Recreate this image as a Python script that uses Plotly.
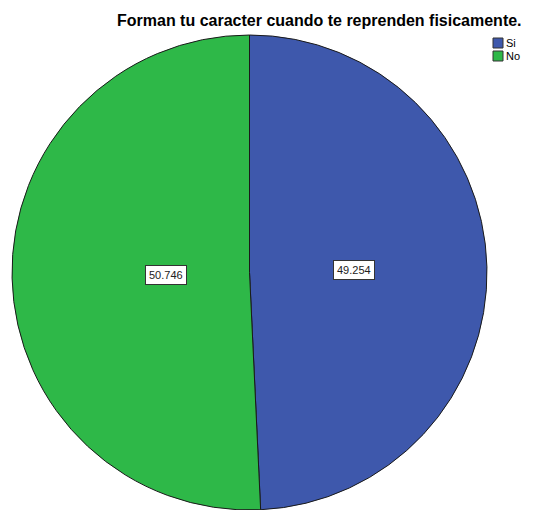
import math
import plotly.graph_objects as go

title_text = "Forman tu caracter cuando te reprenden fisicamente."
categories = ["Si", "No"]
values = [49.254, 50.746]
colors = ["#3E58AC", "#2EB848"]

# page has an 8px body margin; size the figure to fill the rest of the window
W, H = 531, 502
left, right, top = 1.5, 481.5, 27
r = min((right - left) / 2, (H - top) / 2)
cx = (left + right) / 2
cy = top + r

fig = go.Figure()
fig.add_trace(go.Pie(
    labels=categories, values=values, sort=False, direction="clockwise", rotation=0,
    marker=dict(colors=colors, line=dict(color="#1a1a1a", width=1)),
    textinfo="none", hoverinfo="label+value", showlegend=False,
    domain=dict(x=[left / W, right / W], y=[0, 1 - top / H]),
))

total = sum(values)
cum = 0.0
for v in values:
    mid = (cum + v / 2) / total * 2 * math.pi
    cum += v
    d = 0.44 * r
    px = cx + d * math.sin(mid)
    py = cy - d * math.cos(mid)
    fig.add_annotation(
        x=px / W, y=1 - py / H, xref="paper", yref="paper",
        text=f"{v:.3f}", showarrow=False,
        font=dict(family="Arial, Liberation Sans", size=11, color="#222"),
        bgcolor="white", bordercolor="#333", borderwidth=1, borderpad=3,
    )

# legend (manual, compact like the reference)
lx0, ly0, sq, gap = 485, 30, 10, 13
for i, (cat, col) in enumerate(zip(categories, colors)):
    y0 = ly0 + i * gap
    fig.add_shape(type="rect", xref="paper", yref="paper",
                  x0=lx0 / W, x1=(lx0 + sq) / W,
                  y0=1 - y0 / H, y1=1 - (y0 + sq) / H,
                  fillcolor=col, line=dict(color="#333", width=1))
    fig.add_annotation(x=(lx0 + sq + 1) / W, y=1 - (y0 + sq / 2) / H,
                       xref="paper", yref="paper", xanchor="left", yanchor="middle",
                       text=cat, showarrow=False,
                       font=dict(family="Arial, Liberation Sans", size=11, color="#000"))

fig.update_layout(
    width=W, height=H, margin=dict(l=0, r=0, t=0, b=0),
    paper_bgcolor="white", plot_bgcolor="white",
    title=dict(text=f"<b>{title_text}</b>", x=109 / W, xanchor="left",
               y=1 - 12.5 / H, yanchor="middle",
               font=dict(family="Arial, Liberation Sans", size=16, color="#000")),
    showlegend=False,
)

fig.write_html("out.html")
